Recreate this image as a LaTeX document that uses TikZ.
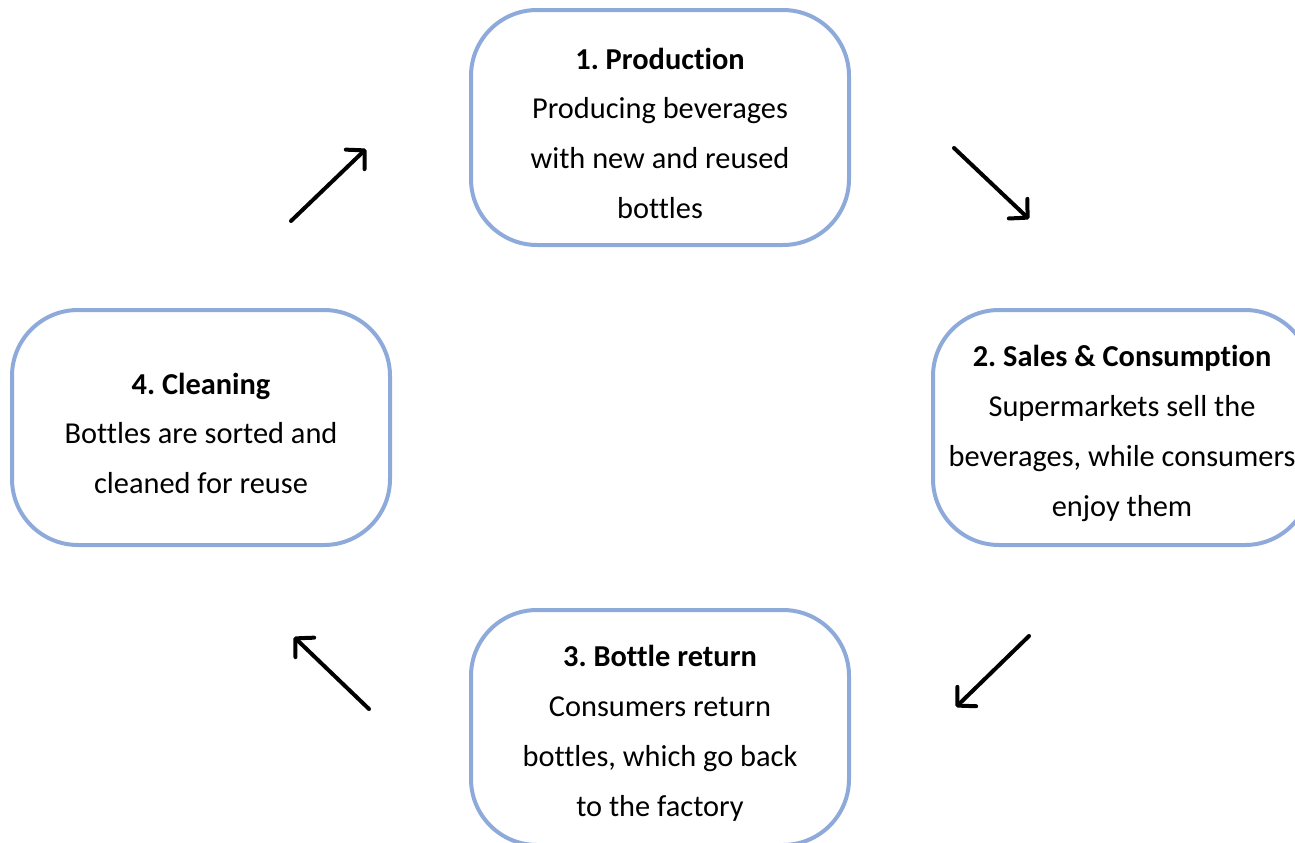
\documentclass[tikz,border=0pt]{standalone}
\usepackage{fontspec}
\setmainfont{Carlito}[Ligatures=NoCommon]
\usepackage{tikz}
\usetikzlibrary{arrows.meta}
\definecolor{boxblue}{RGB}{142,170,219}
\newcommand{\stagehead}[1]{\rule{0pt}{33bp}\textbf{#1}}
\frenchspacing

\begin{document}
\begin{tikzpicture}[
  stage/.style={draw=boxblue,line width=4bp,rounded corners=66bp,fill=white,
    minimum width=378bp,minimum height=235bp,align=center,
    font=\fontsize{30.5}{50}\selectfont},
  flow/.style={-{Straight Barb[length=13bp,width=27bp,round]},line width=4bp,line cap=round}]

\clip (0bp,0bp) rectangle (1295bp,-843bp);

\node (P) at (660bp,-127.5bp)[stage] {\stagehead{1. Production}\\Producing beverages\\with new and reused\\bottles};
\node (S) at (1122bp,-427.5bp)[stage] {\stagehead{2. Sales \& Consumption}\\Supermarkets sell the\\beverages, while consumers\\enjoy them};
\node (R) at (660bp,-727.5bp)[stage] {\stagehead{3. Bottle return}\\Consumers return\\bottles, which go back\\to the factory};
\node (C) at (201bp,-427.5bp)[stage] {\stagehead{4. Cleaning}\\Bottles are sorted and\\cleaned for reuse};

\coordinate (a1) at (291bp,-221bp);
\coordinate (b1) at (366bp,-149bp);
\coordinate (a2) at (954bp,-148bp);
\coordinate (b2) at (1029bp,-219bp);
\coordinate (a3) at (1029bp,-636bp);
\coordinate (b3) at (956bp,-707bp);
\coordinate (a4) at (369bp,-709bp);
\coordinate (b4) at (294bp,-637bp);

\draw [flow] (a1) to (b1);
\draw [flow] (a2) to (b2);
\draw [flow] (a3) to (b3);
\draw [flow] (a4) to (b4);
\end{tikzpicture}
\end{document}
